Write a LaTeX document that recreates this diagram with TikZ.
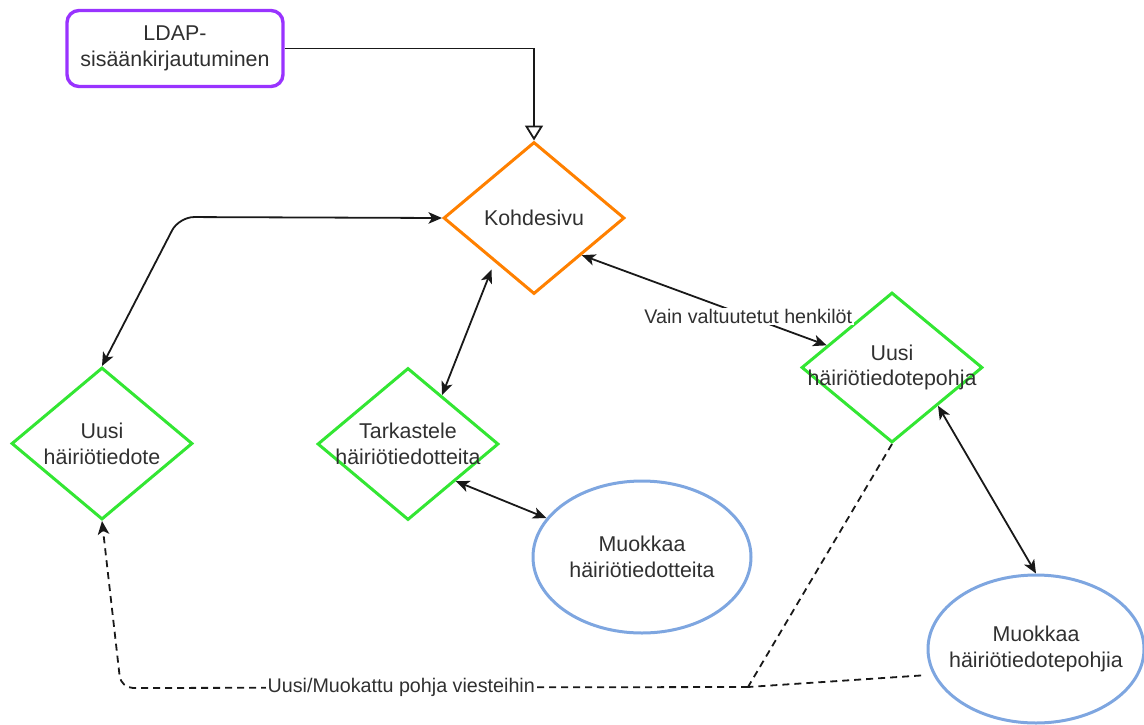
\documentclass[tikz,border=0pt]{standalone}
\usepackage{fontspec}
\setmainfont{Liberation Sans}
\usetikzlibrary{shapes.geometric, arrows.meta, calc}

\definecolor{txtgray}{HTML}{303030}
\definecolor{loginpurple}{HTML}{9933FF}
\definecolor{mainorange}{HTML}{FF8000}
\definecolor{actgreen}{HTML}{33E633}
\definecolor{editblue}{HTML}{7EA6E0}

\tikzset{
  txt/.style={font=\fontsize{21.4}{25.7}\selectfont, text=txtgray, align=center},
  lbl/.style={font=\fontsize{19.7}{23.6}\selectfont, text=txtgray, fill=white, inner xsep=1.5pt, inner ysep=1pt},
  loginbox/.style={rectangle, rounded corners=12pt, draw=loginpurple, line width=3.4pt,
    minimum width=216pt, minimum height=76pt, inner sep=0pt, txt},
  dia/.style={diamond, line width=3pt, minimum width=181pt, minimum height=152pt, inner sep=0pt},
  ell/.style={ellipse, draw=editblue, line width=3pt, inner sep=0pt},
  edge/.style={line width=1.8pt, draw=black!90},
  bi/.style={edge, {Stealth[length=13.5pt, width=11.5pt, inset=3.5pt]}-{Stealth[length=13.5pt, width=11.5pt, inset=3.5pt]}},
  dashedge/.style={edge, dash pattern=on 7pt off 5pt},
}

\begin{document}
\begin{tikzpicture}[x=1pt, y=-1pt]
\useasboundingbox (0,0) rectangle (1144,724);

% nodes
\node[loginbox] (L) at (175,48.5) {LDAP-\\sisäänkirjautuminen};
\node[dia, draw=mainorange, label={[txt]center:Kohdesivu}] (K) at (534,218) {};
\node[dia, draw=actgreen, label={[txt]center:{Uusi\\häiriötiedote}}] (U) at (102,443.5) {};
\node[dia, draw=actgreen, label={[txt]center:{Tarkastele\\häiriötiedotteita}}] (T) at (408,444) {};
\node[dia, draw=actgreen, minimum height=150pt, label={[txt]center:{Uusi\\häiriötiedotepohja}}] (P) at (892,367.5) {};
\node[ell, minimum width=218pt, minimum height=152pt, label={[txt]center:{Muokkaa\\häiriötiedotteita}}] (M1) at (642,557) {};
\node[ell, minimum width=216pt, minimum height=148pt, label={[txt]center:{Muokkaa\\häiriötiedotepohjia}}] (M2) at (1036,649) {};

% login leads to the landing page
\draw[edge, -{Triangle[open, length=15pt, width=18pt]}] (L.east) -| (K.north);

% navigation from the landing page
\draw[bi, rounded corners=15pt] (U.north) -- (179,217) -- (K.west);
\draw[bi, shorten >=8pt] ($(T.north)!0.37!(T.east)$) -- ($(K.west)!0.57!(K.south)$);
\draw[bi] ($(K.east)!0.48!(K.south)$) -- node[lbl, pos=0.68] {Vain valtuutetut henkilöt} ($(P.west)!0.29!(P.north)$);
\draw[bi] ($(T.east)!0.48!(T.south)$) -- (M1);
\draw[bi] (P.south east) -- (M2.north);

% templates feed new notices
\coordinate (J) at (748,687);
\draw[dashedge] (P.south) -- (J);
\draw[dashedge, shorten <=12pt] (M2.194) -- (J);
\draw[dashedge, -{Stealth[length=13.5pt, width=11.5pt, inset=3.5pt]}, rounded corners=12pt]
  (J) -- node[lbl, pos=0.553] {Uusi/Muokattu pohja viesteihin} (121,688) -- (U.south);
\end{tikzpicture}
\end{document}
